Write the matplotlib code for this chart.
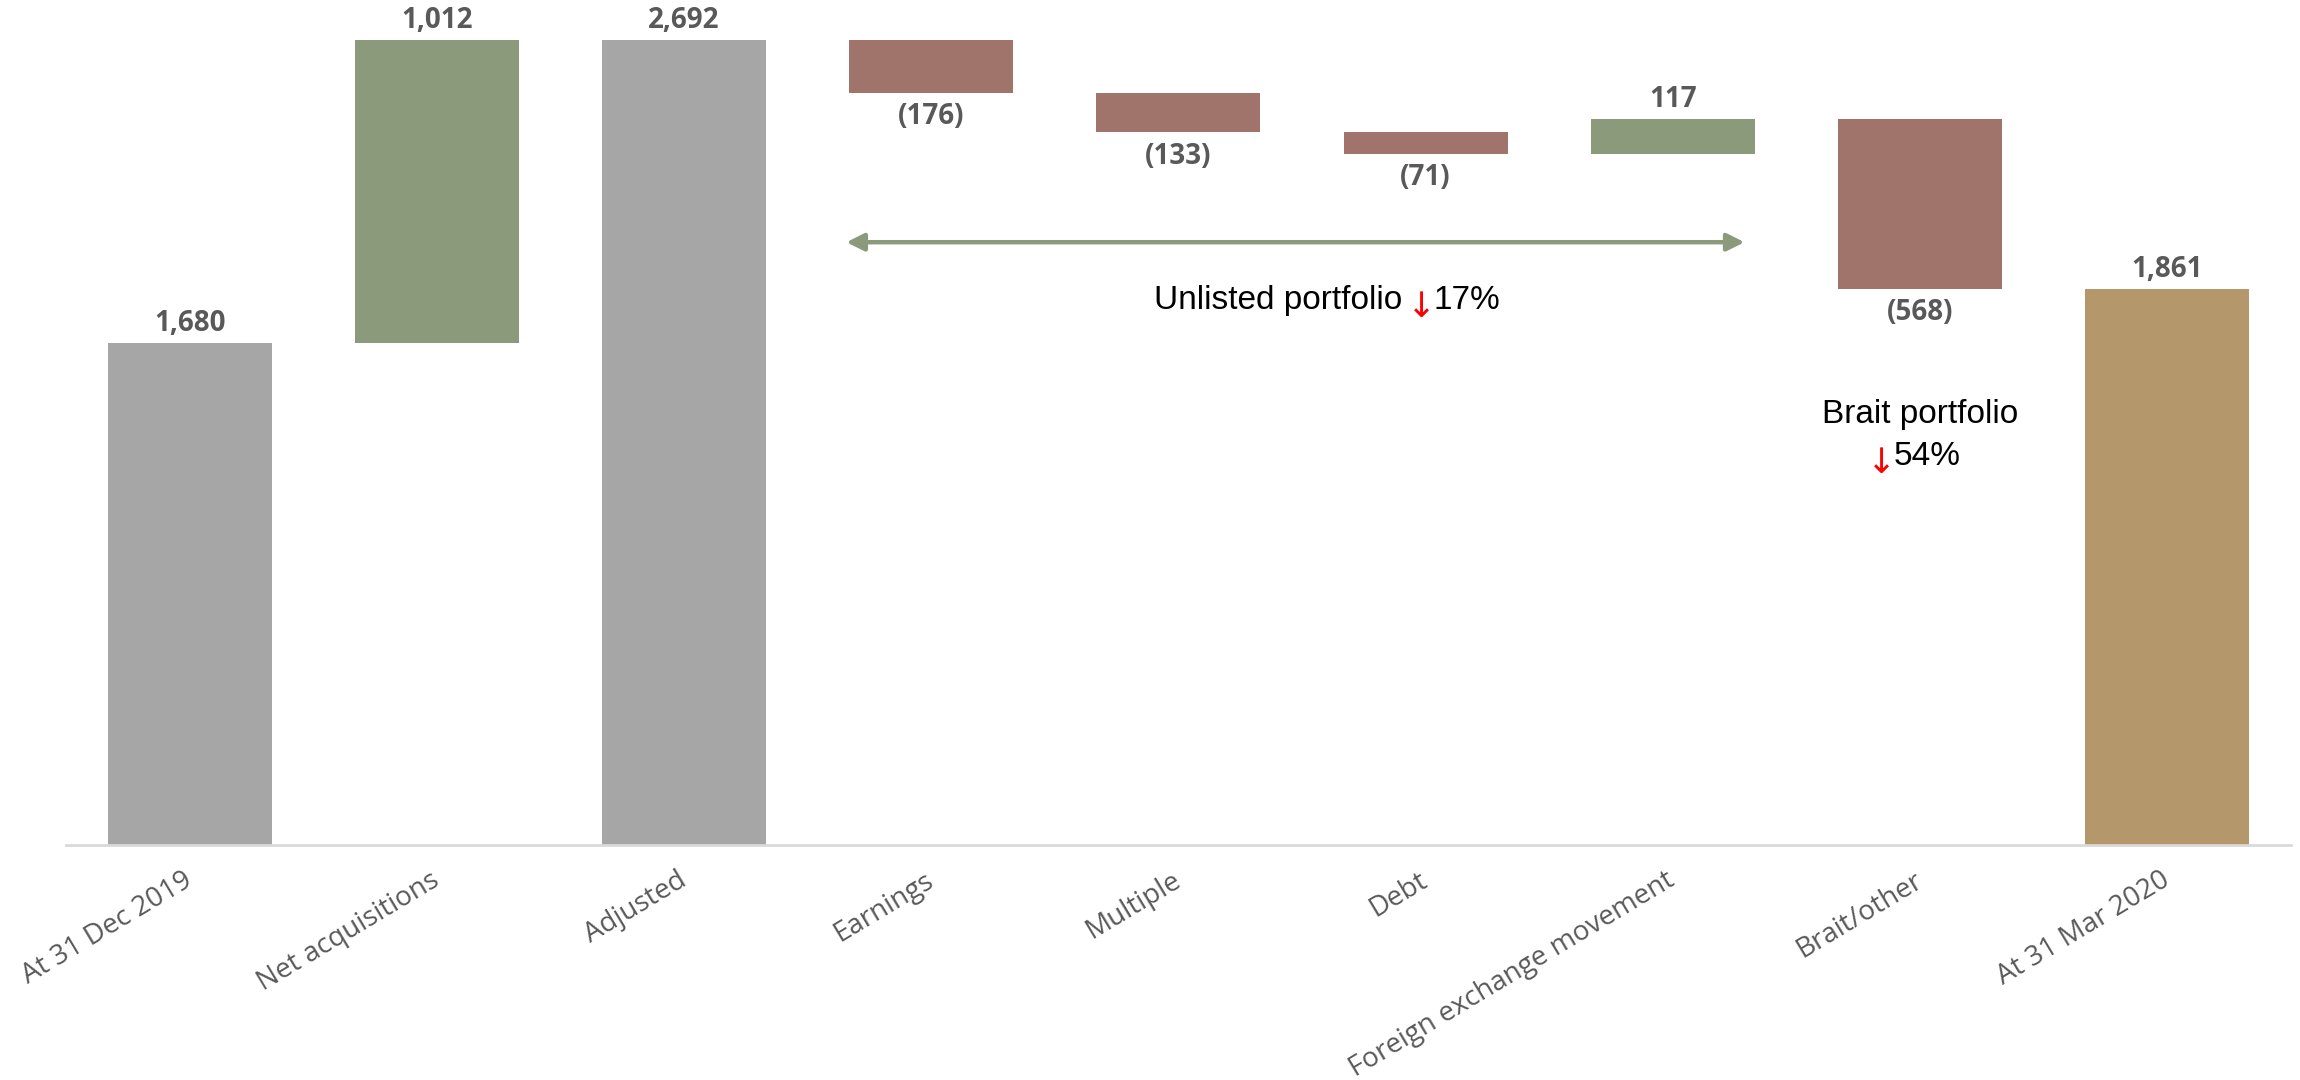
import matplotlib
matplotlib.use("Agg")
import matplotlib.pyplot as plt
import numpy as np

# Waterfall of unlisted portfolio value (£m)
categories = ["At 31 Dec 2019", "Net acquisitions", "Adjusted", "Earnings", "Multiple",
              "Debt", "Foreign exchange movement", "Brait/other", "At 31 Mar 2020"]
values = [1680, 1012, 2692, -176, -133, -71, 117, -568, 1861]
kinds = ["total", "delta", "total", "delta", "delta", "delta", "delta", "delta", "final"]
value_labels = ["1,680", "1,012", "2,692", "(176)", "(133)", "(71)", "117", "(568)", "1,861"]

C_TOTAL = "#A6A6A6"
C_UP = "#8A9A7B"
C_DOWN = "#A0746A"
C_FINAL = "#B4986B"
C_LABEL = "#595959"

# running level -> bar bottoms and heights
bottoms, heights, colors = [], [], []
level = 0
for v, k in zip(values, kinds):
    if k in ("total", "final"):
        bottoms.append(0)
        heights.append(v)
        colors.append(C_FINAL if k == "final" else C_TOTAL)
        level = v
    else:
        if v >= 0:
            bottoms.append(level)
            colors.append(C_UP)
        else:
            bottoms.append(level + v)
            colors.append(C_DOWN)
        heights.append(abs(v))
        level += v

fig = plt.figure(figsize=(23, 10.8), dpi=100)
ax = fig.add_axes([0.0287, 0.2176, 0.9673, 0.7824])

x = np.arange(len(categories))
ax.bar(x, heights, bottom=bottoms, width=0.663, color=colors, edgecolor="none", zorder=2)

ax.set_xlim(-0.5, 8.5)
ax.set_ylim(0, 2826)

# value labels: above rising/total bars, below falling bars
for xi, v, k, b, h, lab in zip(x, values, kinds, bottoms, heights, value_labels):
    if k == "delta" and v < 0:
        ax.annotate(lab, (xi, b), xytext=(0, -17), textcoords="offset points",
                    ha="center", va="center", fontsize=20, fontweight="bold",
                    color=C_LABEL, family="Open Sans")
    else:
        ax.annotate(lab, (xi, b + h), xytext=(0, 14), textcoords="offset points",
                    ha="center", va="center", fontsize=20, fontweight="bold",
                    color=C_LABEL, family="Open Sans")

# spine / ticks
for s in ["top", "right", "left"]:
    ax.spines[s].set_visible(False)
ax.spines["bottom"].set_color("#D9D9D9")
ax.spines["bottom"].set_linewidth(2)
ax.set_yticks([])
ax.set_xticks(x)
ax.tick_params(axis="x", length=0, pad=24)
ax.set_xticklabels(categories, rotation=31, ha="right", va="center",
                   rotation_mode="anchor", fontsize=20, color=C_LABEL, family="Open Sans")

# unlisted portfolio span arrow
ax.annotate("", xy=(2.657, 2016), xytext=(6.29, 2016),
            arrowprops=dict(arrowstyle="<|-|>", color=C_UP, lw=3.2,
                            mutation_scale=26, shrinkA=0, shrinkB=0))

fam = ["Liberation Sans", "DejaVu Sans"]
arrow_fam = "DejaVu Sans"
ax.text(4.905, 1822, "Unlisted portfolio", ha="right", va="center", fontsize=24,
        color="black", family=fam)
ax.text(4.985, 1800, "\u2193", ha="center", va="center", fontsize=25, color="red",
        family=arrow_fam)
ax.text(5.03, 1822, "17%", ha="left", va="center", fontsize=24, color="black", family=fam)

ax.text(7.0, 1440, "Brait portfolio", ha="center", va="center", fontsize=24,
        color="black", family=fam)
ax.text(6.845, 1278, "\u2193", ha="center", va="center", fontsize=25, color="red",
        family=arrow_fam)
ax.text(6.895, 1298, "54%", ha="left", va="center", fontsize=24, color="black", family=fam)

fig.savefig("out.png", dpi=100, facecolor="white")
